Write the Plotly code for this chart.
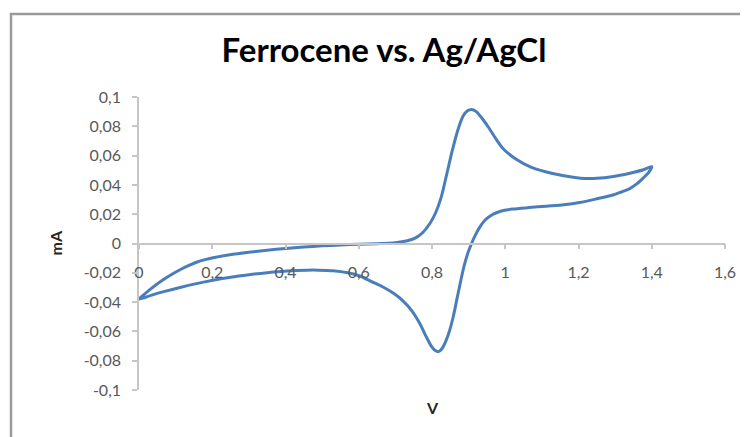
import plotly.graph_objects as go

# Forward (anodic) scan 0 -> 1.4 V
forward_v = [0.000, 0.012, 0.028, 0.045, 0.066, 0.090, 0.112, 0.135, 0.157, 0.180, 0.202,
             0.248, 0.300, 0.350, 0.400, 0.450, 0.500, 0.550, 0.600, 0.650, 0.700, 0.730,
             0.755, 0.775, 0.795, 0.810, 0.825, 0.840, 0.855, 0.870, 0.885, 0.897, 0.908,
             0.920, 0.935, 0.955, 0.975, 0.995, 1.030, 1.067, 1.110, 1.160, 1.205, 1.250,
             1.295, 1.340, 1.375, 1.400]
forward_i = [-0.0380, -0.0352, -0.0318, -0.0285, -0.0248, -0.0210, -0.0179, -0.0151, -0.0128,
             -0.0110, -0.0097, -0.0077, -0.0060, -0.0046, -0.0034, -0.0024, -0.0016, -0.0010,
             -0.0005, -0.0001, 0.0006, 0.0017, 0.0038, 0.0075, 0.0140, 0.0210, 0.0315, 0.0470,
             0.0630, 0.0770, 0.0870, 0.0906, 0.0915, 0.0902, 0.0860, 0.0790, 0.0712, 0.0645,
             0.0575, 0.0525, 0.0490, 0.0462, 0.0446, 0.0445, 0.0457, 0.0480, 0.0502, 0.0525]

# Reverse (cathodic) scan 1.4 -> 0 V
reverse_v = [1.390, 1.376, 1.358, 1.340, 1.315, 1.294, 1.250, 1.203, 1.160, 1.112, 1.065,
             1.021, 0.995, 0.976, 0.960, 0.945, 0.930, 0.918, 0.908, 0.898, 0.888, 0.878,
             0.868, 0.858, 0.848, 0.838, 0.828, 0.818, 0.808, 0.798, 0.785, 0.767, 0.745,
             0.720, 0.695, 0.665, 0.635, 0.603, 0.570, 0.530, 0.490, 0.458, 0.430, 0.404,
             0.350, 0.300, 0.250, 0.202, 0.157, 0.112, 0.070, 0.035, 0.000]
reverse_i = [0.0480, 0.0445, 0.0405, 0.0375, 0.0350, 0.0331, 0.0305, 0.0280, 0.0265, 0.0255,
             0.0245, 0.0235, 0.0225, 0.0210, 0.0190, 0.0160, 0.0110, 0.0055, 0.0000, -0.0065,
             -0.0150, -0.0260, -0.0380, -0.0500, -0.0595, -0.0665, -0.0715, -0.0738, -0.0728,
             -0.0700, -0.0640, -0.0548, -0.0460, -0.0390, -0.0340, -0.0295, -0.0260, -0.0222,
             -0.0200, -0.0186, -0.0182, -0.0182, -0.0184, -0.0188, -0.0199, -0.0213, -0.0230,
             -0.0251, -0.0274, -0.0300, -0.0327, -0.0352, -0.0380]

x_tick_vals = [0, 0.2, 0.4, 0.6, 0.8, 1.0, 1.2, 1.4, 1.6]
x_tick_labels = ["0", "0,2", "0,4", "0,6", "0,8", "1", "1,2", "1,4", "1,6"]
y_tick_vals = [-0.1, -0.08, -0.06, -0.04, -0.02, 0, 0.02, 0.04, 0.06, 0.08, 0.1]
y_tick_labels = ["-0,1", "-0,08", "-0,06", "-0,04", "-0,02", "0", "0,02", "0,04", "0,06", "0,08", "0,1"]

title_text = "Ferrocene vs. Ag/AgCl"
x_title = "V"
y_title = "mA"

# The page body adds an 8px offset, so the figure is drawn 8px smaller.
W, H = 740, 429
L, R, T, B = 131, 23, 89, 47
PW, PH = W - L - R, H - T - B

fig = go.Figure()
fig.add_trace(go.Scatter(
    x=forward_v + reverse_v,
    y=forward_i + reverse_i,
    mode="lines",
    line=dict(color="#4a7ebb", width=3, shape="spline", smoothing=0.8),
    hoverinfo="skip",
))

tick_font = dict(family="Lato", size=16, color="#595959")
axis_gray = "#c6c6c6"

fig.update_layout(
    width=W, height=H,
    margin=dict(l=L, r=R, t=T, b=B),
    paper_bgcolor="white", plot_bgcolor="white",
    showlegend=False,
    title=dict(text=title_text, font=dict(family="Lato", size=33, color="#000000", weight="bold"),
               xref="container", x=376 / W, xanchor="center",
               yref="container", y=1 - 42 / H, yanchor="middle"),
    xaxis=dict(range=[0, 1.6], tickvals=x_tick_vals, ticktext=x_tick_labels,
               anchor="free", position=0.5, showline=True, linecolor=axis_gray, linewidth=1.5,
               ticks="outside", ticklen=5, tickcolor=axis_gray, tickwidth=1.5,
               ticklabelstandoff=10, showgrid=False, zeroline=False, tickfont=tick_font,
               automargin=False),
    yaxis=dict(range=[-0.1, 0.1], tickvals=y_tick_vals, ticktext=y_tick_labels,
               showline=True, linecolor=axis_gray, linewidth=1.5,
               ticks="outside", ticklen=5, tickcolor=axis_gray, tickwidth=1.5,
               ticklabelstandoff=8, showgrid=False, zeroline=False, tickfont=tick_font,
               automargin=False),
    annotations=[
        dict(text=y_title, xref="paper", yref="paper", x=(47 - L) / PW, y=0.5,
             textangle=-90, showarrow=False, xanchor="center", yanchor="middle",
             font=dict(family="Lato", size=16, color="#262626", weight="bold")),
        dict(text=x_title, xref="paper", yref="paper", x=0.5, y=-(399 - (H - B)) / PH,
             showarrow=False, xanchor="center", yanchor="middle",
             font=dict(family="Lato", size=16, color="#262626", weight="bold")),
    ],
    shapes=[
        dict(type="rect", xref="paper", yref="paper",
             x0=(3 - L) / PW, x1=1.2, y0=-0.3, y1=(H - B - 6) / PH,
             line=dict(color="#9a9a9a", width=2.5), layer="below"),
    ],
)

fig.write_html("out.html")
